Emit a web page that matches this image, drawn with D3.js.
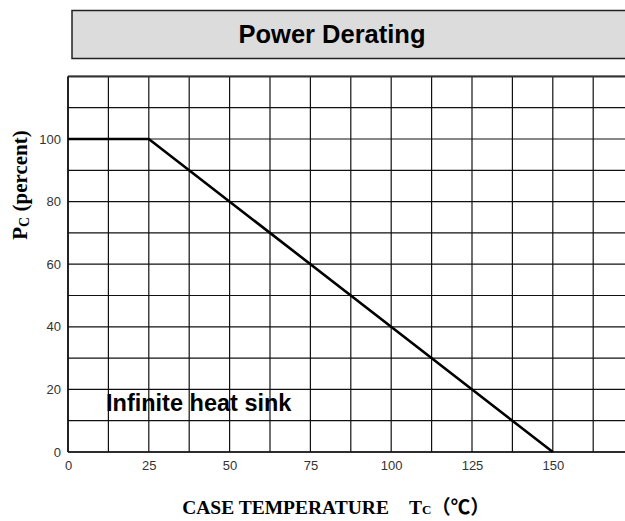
<!DOCTYPE html>
<html><head><meta charset="utf-8">
<script src="https://cdn.jsdelivr.net/npm/d3@7"></script>
<style>body{margin:0;background:#fff;overflow:hidden}svg{display:block}</style>
</head><body>
<script>
const curveX = [0, 25, 150];
const curveY = [100, 100, 0];
const xTicks = [0, 25, 50, 75, 100, 125, 150];
const yTicks = [0, 20, 40, 60, 80, 100];
const xGrid = d3.range(0, 175.1, 12.5);
const yGrid = d3.range(0, 120.1, 10);

const svg = d3.select("body").append("svg").attr("width", 625).attr("height", 521);
const x = d3.scaleLinear().domain([0, 175]).range([68, 633.6]);
const y = d3.scaleLinear().domain([0, 120]).range([452, 76.4]);

// title box
svg.append("rect").attr("x", 72).attr("y", 10.5).attr("width", 600).attr("height", 48)
  .attr("fill", "#dcdcdc").attr("stroke", "#222").attr("stroke-width", 1.5);
svg.append("text").attr("x", 332).attr("y", 43).attr("text-anchor", "middle")
  .attr("font-family", "Liberation Sans, Arial, sans-serif").attr("font-weight", "bold")
  .attr("font-size", 25.5).text("Power Derating");

// grid
svg.append("g").selectAll("line").data(xGrid).join("line")
  .attr("x1", d => x(d)).attr("x2", d => x(d)).attr("y1", y(0)).attr("y2", y(120))
  .attr("stroke", "#111").attr("stroke-width", 1.2);
svg.append("g").selectAll("line").data(yGrid).join("line")
  .attr("x1", x(0)).attr("x2", 640).attr("y1", d => y(d)).attr("y2", d => y(d))
  .attr("stroke", "#111").attr("stroke-width", 1.2);
svg.append("line").attr("x1", x(0)).attr("x2", 640).attr("y1", y(120)).attr("y2", y(120))
  .attr("stroke", "#333").attr("stroke-width", 2);
svg.append("line").attr("x1", x(0)).attr("x2", 640).attr("y1", y(0)).attr("y2", y(0))
  .attr("stroke", "#111").attr("stroke-width", 1.6);
svg.append("line").attr("x1", x(0)).attr("x2", x(0)).attr("y1", y(0)).attr("y2", y(120))
  .attr("stroke", "#111").attr("stroke-width", 1.6);

// axes labels
const xAxis = d3.axisBottom(x).tickValues(xTicks).tickSize(0).tickPadding(9);
const gx = svg.append("g").attr("transform", `translate(0,${y(0)})`).call(xAxis);
gx.select(".domain").remove();
gx.selectAll("text").attr("font-family", "Liberation Sans, Arial, sans-serif").attr("font-size", 13).attr("fill", "#333");
const yAxis = d3.axisLeft(y).tickValues(yTicks).tickSize(0).tickPadding(7);
const gy = svg.append("g").attr("transform", `translate(${x(0)},0)`).call(yAxis);
gy.select(".domain").remove();
gy.selectAll("text").attr("font-family", "Liberation Sans, Arial, sans-serif").attr("font-size", 13).attr("fill", "#333");

// curve
const pts = curveX.map((d, i) => [d, curveY[i]]);
svg.append("path").datum(pts)
  .attr("d", d3.line().x(d => x(d[0])).y(d => y(d[1])))
  .attr("fill", "none").attr("stroke", "#000").attr("stroke-width", 2.6);

svg.append("text").attr("x", 106).attr("y", 411)
  .attr("font-family", "Liberation Sans, Arial, sans-serif").attr("font-weight", "bold")
  .attr("font-size", 23.5).text("Infinite heat sink");

// y title
const yt = svg.append("text").attr("transform", "translate(27,185) rotate(-90)").attr("text-anchor", "middle")
  .attr("font-family", "Liberation Serif, Times New Roman, serif").attr("font-weight", "bold").attr("font-size", 21);
yt.append("tspan").text("P");
yt.append("tspan").attr("font-size", 14).attr("dy", 2).text("C");
yt.append("tspan").attr("dy", -2).text(" (percent)");

// x title
const xt = svg.append("text").attr("x", 336).attr("y", 514).attr("text-anchor", "middle")
  .attr("font-family", "Liberation Serif, Times New Roman, serif").attr("font-weight", "bold").attr("font-size", 19.5);
xt.append("tspan").text("CASE TEMPERATURE\u3000T");
xt.append("tspan").attr("font-size", 13).text("C");
xt.append("tspan").attr("font-family", "Noto Sans CJK SC, sans-serif").text("（℃）");
</script>
</body></html>
